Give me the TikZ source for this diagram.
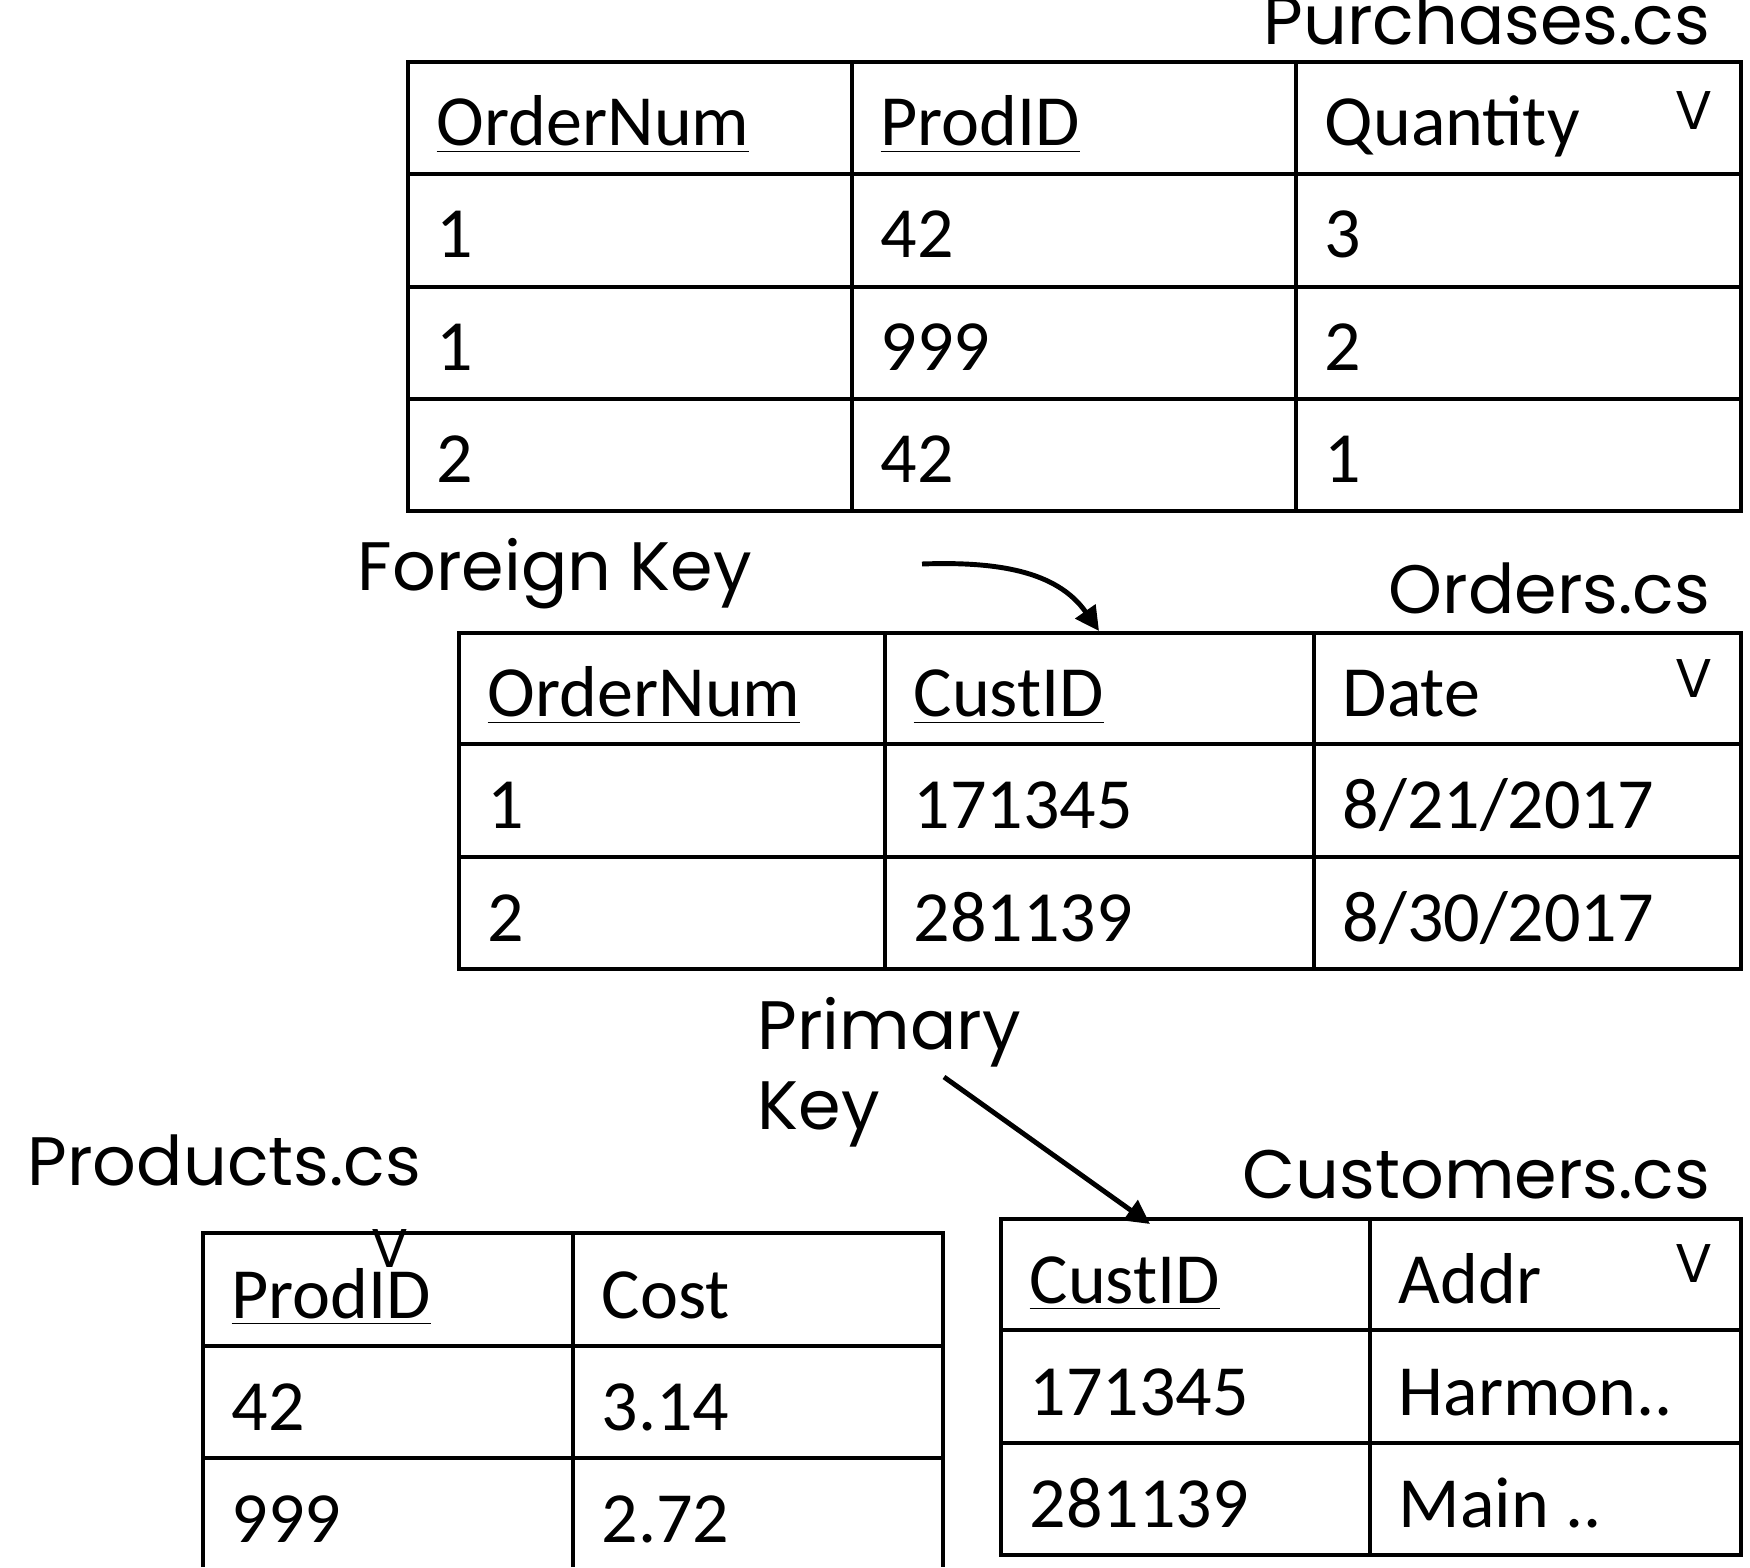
\documentclass[tikz,border=0pt]{standalone}
\usepackage{fontspec}
\usetikzlibrary{arrows.meta}
\newfontfamily\carlito{Carlito}
\newfontfamily\poppins{Poppins}
\newcommand\tabfont{\carlito\fontsize{20.5}{25}\selectfont}
\newcommand\titlefont{\poppins\fontsize{19.5}{24}\selectfont}
\newcommand\markfont{\poppins\fontsize{15.5}{18}\selectfont}
\tikzset{
  cell/.style={anchor=base west, inner sep=0pt, font=\tabfont},
  title/.style={anchor=base east, inner sep=0pt, font=\titlefont},
  label/.style={anchor=base west, inner sep=0pt, font=\titlefont},
  vmark/.style={inner sep=0pt, font=\markfont},
  grid/.style={line width=1pt},
  keyarrow/.style={line width=1.4pt, -{Triangle[length=2.4mm,width=2.4mm]}}
}
\begin{document}
\begin{tikzpicture}
      \useasboundingbox (0,0) rectangle (17.5,15.67);
      % Purchases.cs
      \node[title] (purT) at (17.11,15.22) {Purchases.cs};
      \draw[grid] (4.08,10.56) rectangle (17.41,15.05);
      \draw[grid] (4.08,13.93) -- (17.41,13.93);
      \draw[grid] (4.08,12.80) -- (17.41,12.80);
      \draw[grid] (4.08,11.68) -- (17.41,11.68);
      \draw[grid] (8.52,10.56) -- (8.52,15.05);
      \draw[grid] (12.96,10.56) -- (12.96,15.05);
      \node[cell] (purH1) at (4.36,14.21) {\underline{OrderNum}};
      \node[cell] (purH2) at (8.80,14.21) {\underline{ProdID}};
      \node[cell] (purH3) at (13.24,14.21) {Quantity};
      \node[vmark] (purV) at (16.94,14.56) {V};
      \node[cell] (pur11) at (4.36,13.09) {1};
      \node[cell] (pur12) at (8.80,13.09) {42};
      \node[cell] (pur13) at (13.24,13.09) {3};
      \node[cell] (pur21) at (4.36,11.96) {1};
      \node[cell] (pur22) at (8.80,11.96) {999};
      \node[cell] (pur23) at (13.24,11.96) {2};
      \node[cell] (pur31) at (4.36,10.84) {2};
      \node[cell] (pur32) at (8.80,10.84) {42};
      \node[cell] (pur33) at (13.24,10.84) {1};
      % Orders.cs
      \node[label] (fkey) at (3.57,9.76) {Foreign Key};
      \coordinate (fkS) at (9.22,10.03);
      \coordinate (fkE) at (10.99,9.36);
      \draw[keyarrow] (fkS) to[out=2,in=125] (fkE);
      \node[title] (ordT) at (17.11,9.53) {Orders.cs};
      \draw[grid] (4.59,5.98) rectangle (17.41,9.34);
      \draw[grid] (4.59,8.23) -- (17.41,8.23);
      \draw[grid] (4.59,7.10) -- (17.41,7.10);
      \draw[grid] (8.85,5.98) -- (8.85,9.34);
      \draw[grid] (13.14,5.98) -- (13.14,9.34);
      \node[cell] (ordH1) at (4.87,8.50) {\underline{OrderNum}};
      \node[cell] (ordH2) at (9.13,8.50) {\underline{CustID}};
      \node[cell] (ordH3) at (13.42,8.50) {Date};
      \node[vmark] (ordV) at (16.94,8.88) {V};
      \node[cell] (ord11) at (4.87,7.38) {1};
      \node[cell] (ord12) at (9.13,7.38) {171345};
      \node[cell] (ord13) at (13.42,7.38) {8/21/2017};
      \node[cell] (ord21) at (4.87,6.26) {2};
      \node[cell] (ord22) at (9.13,6.26) {281139};
      \node[cell] (ord23) at (13.42,6.26) {8/30/2017};
      % Products.cs
      \node[label] (pkey1) at (7.57,5.18) {Primary};
      \node[label] (pkey2) at (7.57,4.38) {Key};
      \coordinate (pkS) at (9.44,4.90);
      \coordinate (pkE) at (11.50,3.43);
      \draw[keyarrow] (pkS) -- (pkE);
      \node[label] (prdT) at (0.27,3.82) {Products.cs};
      \draw[grid] (2.03,0) -- (2.03,3.34) -- (9.43,3.34) -- (9.43,0);
      \draw[grid] (2.03,2.21) -- (9.43,2.21);
      \draw[grid] (2.03,1.09) -- (9.43,1.09);
      \draw[grid] (5.73,0) -- (5.73,3.34);
      \node[cell] (prdH1) at (2.31,2.49) {\underline{ProdID}};
      \node[cell] (prdH2) at (6.01,2.49) {Cost};
      \node[vmark, anchor=north] (prdV) at (3.90,3.38) {V};
      \node[cell] (prd11) at (2.31,1.37) {42};
      \node[cell] (prd12) at (6.01,1.37) {3.14};
      \node[cell] (prd21) at (2.31,0.25) {999};
      \node[cell] (prd22) at (6.01,0.25) {2.72};
      % Customers.cs
      \node[title] (cusT) at (17.11,3.69) {Customers.cs};
      \draw[grid] (10.01,0.12) rectangle (17.41,3.48);
      \draw[grid] (10.01,2.37) -- (17.41,2.37);
      \draw[grid] (10.01,1.24) -- (17.41,1.24);
      \draw[grid] (13.70,0.12) -- (13.70,3.48);
      \node[cell] (cusH1) at (10.29,2.64) {\underline{CustID}};
      \node[cell] (cusH2) at (13.98,2.64) {Addr};
      \node[vmark] (cusV) at (16.94,3.03) {V};
      \node[cell] (cus11) at (10.29,1.52) {171345};
      \node[cell] (cus12) at (13.98,1.52) {Harmon..};
      \node[cell] (cus21) at (10.29,0.40) {281139};
      \node[cell] (cus22) at (13.98,0.40) {Main ..};
    \end{tikzpicture}
\end{document}
